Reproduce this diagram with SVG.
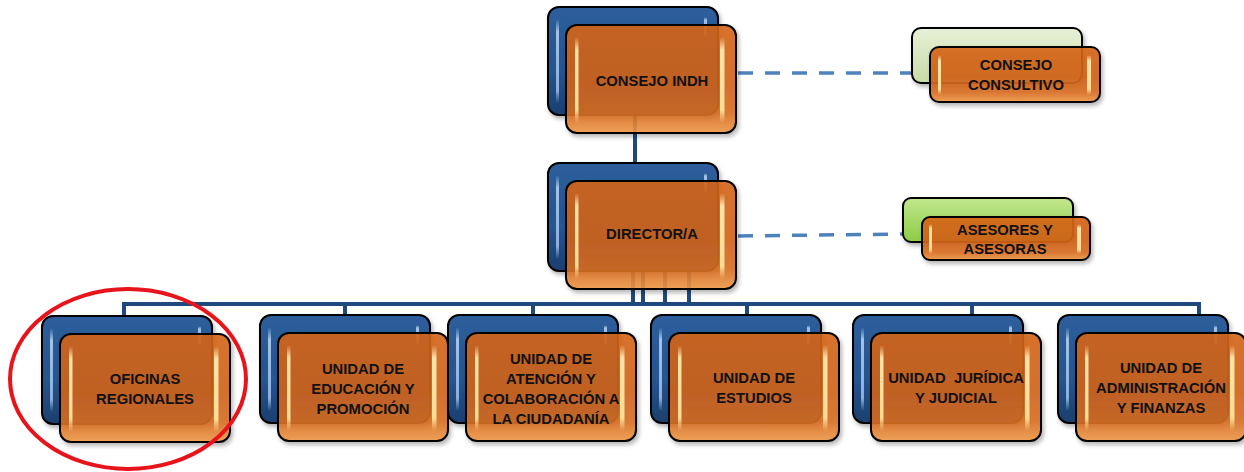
<svg xmlns="http://www.w3.org/2000/svg" xmlns:xlink="http://www.w3.org/1999/xlink" width="1244" height="472" viewBox="0 0 1244 472">
<style>
.t{font-family:"Liberation Sans",Arial,sans-serif;font-weight:bold;font-size:14.8px;fill:#111;text-anchor:middle}
.bus{stroke:#1F497D;stroke-width:4;fill:none}
.dash{stroke:#4F81BD;stroke-width:3.5;fill:none;stroke-dasharray:15 12}
.edge{stroke:#000;stroke-width:2}
</style>
<defs>
<linearGradient id="bg" x1="0" y1="0" x2="0" y2="1">
<stop offset="0" stop-color="#2E5E9C"/><stop offset="0.6" stop-color="#25548F"/><stop offset="1" stop-color="#1A3F6E"/>
</linearGradient>
<linearGradient id="og" x1="0" y1="0" x2="0" y2="1">
<stop offset="0" stop-color="#D6661A"/><stop offset="0.55" stop-color="#D2631A"/><stop offset="0.82" stop-color="#D96E22"/><stop offset="1" stop-color="#F09A48"/>
</linearGradient>
<linearGradient id="gp" x1="0" y1="0" x2="0" y2="1">
<stop offset="0" stop-color="#E8F0D8"/><stop offset="1" stop-color="#C8DBA4"/>
</linearGradient>
<linearGradient id="gb" x1="0" y1="0" x2="0" y2="1">
<stop offset="0" stop-color="#C2E88E"/><stop offset="1" stop-color="#8CCB44"/>
</linearGradient>
<linearGradient id="hl" x1="0" y1="0" x2="0" y2="1">
<stop offset="0" stop-color="#FFF2C0" stop-opacity="0"/><stop offset="0.15" stop-color="#FFF0B8" stop-opacity="0.9"/><stop offset="0.85" stop-color="#FFE8A0" stop-opacity="0.9"/><stop offset="1" stop-color="#FFE8A0" stop-opacity="0"/>
</linearGradient>
<linearGradient id="hb" x1="0" y1="0" x2="0" y2="1">
<stop offset="0" stop-color="#B8D4F4" stop-opacity="0"/><stop offset="0.15" stop-color="#B8D4F4" stop-opacity="0.85"/><stop offset="0.85" stop-color="#9CC0EA" stop-opacity="0.85"/><stop offset="1" stop-color="#9CC0EA" stop-opacity="0"/>
</linearGradient>
<filter id="sh" x="-10%" y="-10%" width="125%" height="130%">
<feDropShadow dx="2" dy="3" stdDeviation="2" flood-color="#000" flood-opacity="0.3"/>
</filter>
<g id="big">
<rect class="edge" x="0" y="0" width="170" height="108" rx="11" fill="url(#bg)" filter="url(#sh)"/>
<rect x="8" y="12" width="3" height="84" rx="1.5" fill="url(#hb)"/>
<rect x="156" y="10" width="3" height="20" rx="1.5" fill="url(#hb)"/>
<g transform="translate(18,18)">
<rect class="edge" x="0" y="0" width="170" height="108" rx="11" fill="url(#og)" fill-opacity="0.88" filter="url(#sh)"/>
<rect x="9" y="12" width="3.5" height="86" rx="1.5" fill="url(#hl)"/>
<rect x="154" y="12" width="4.5" height="86" rx="2" fill="url(#hl)"/>
</g>
</g>
</defs>

<g id="connectors">
<line class="bus" x1="635" y1="115" x2="635" y2="163"/>
<line class="bus" x1="633" y1="270" x2="633" y2="304"/>
<line class="bus" x1="643" y1="270" x2="643" y2="304"/>
<line class="bus" x1="665" y1="270" x2="665" y2="304"/>
<line class="bus" x1="689" y1="270" x2="689" y2="304"/>
<polyline class="bus" points="124,316 124,304 1199,304 1199,315"/>
<line class="bus" x1="345" y1="304" x2="345" y2="315"/>
<line class="bus" x1="533" y1="304" x2="533" y2="315"/>
<line class="bus" x1="747" y1="304" x2="747" y2="315"/>
<line class="bus" x1="972" y1="304" x2="972" y2="315"/>
<line class="dash" x1="738" y1="73" x2="914" y2="73"/>
<line class="dash" x1="738" y1="236" x2="905" y2="234"/>
</g>

<g id="consejo-indh">
<use href="#big" x="548" y="7"/>
<text class="t" x="652" y="86">CONSEJO INDH</text>
</g>

<g id="director">
<use href="#big" x="548" y="163"/>
<text class="t" x="652" y="239">DIRECTOR/A</text>
</g>

<g id="consejo-consultivo">
<rect class="edge" x="912" y="28" width="170" height="55" rx="9" fill="url(#gp)" filter="url(#sh)"/>
<rect class="edge" x="930" y="47" width="170" height="55" rx="9" fill="url(#og)" fill-opacity="0.9" filter="url(#sh)"/>
<rect x="938" y="55" width="3" height="40" rx="1.5" fill="url(#hl)"/>
<rect x="1087" y="55" width="4" height="40" rx="2" fill="url(#hl)"/>
<text class="t" x="1016" y="70">CONSEJO</text>
<text class="t" x="1016" y="90">CONSULTIVO</text>
</g>

<g id="asesores">
<rect class="edge" x="903" y="198" width="170" height="44" rx="8" fill="url(#gb)" filter="url(#sh)"/>
<rect class="edge" x="922" y="217" width="168" height="43" rx="8" fill="url(#og)" fill-opacity="0.9" filter="url(#sh)"/>
<rect x="929" y="224" width="3" height="30" rx="1.5" fill="url(#hl)"/>
<rect x="1077" y="224" width="4" height="30" rx="2" fill="url(#hl)"/>
<text class="t" x="1005" y="235">ASESORES Y</text>
<text class="t" x="1005" y="254">ASESORAS</text>
</g>

<g id="oficinas-regionales">
<use href="#big" x="42" y="316"/>
<text class="t" x="145" y="384">OFICINAS</text>
<text class="t" x="145" y="404">REGIONALES</text>
</g>

<g id="unidad-educacion">
<use href="#big" x="260" y="315"/>
<text class="t" x="363" y="374">UNIDAD DE</text>
<text class="t" x="363" y="394">EDUCACIÓN Y</text>
<text class="t" x="363" y="414">PROMOCIÓN</text>
</g>

<g id="unidad-atencion">
<use href="#big" x="448" y="315"/>
<text class="t" x="551" y="364">UNIDAD DE</text>
<text class="t" x="551" y="384">ATENCIÓN Y</text>
<text class="t" x="551" y="404">COLABORACIÓN A</text>
<text class="t" x="551" y="424">LA CIUDADANÍA</text>
</g>

<g id="unidad-estudios">
<use href="#big" x="651" y="315"/>
<text class="t" x="754" y="383">UNIDAD DE</text>
<text class="t" x="754" y="403">ESTUDIOS</text>
</g>

<g id="unidad-juridica">
<use href="#big" x="853" y="315"/>
<text class="t" x="956" y="383" xml:space="preserve">UNIDAD  JURÍDICA</text>
<text class="t" x="956" y="403">Y JUDICIAL</text>
</g>

<g id="unidad-administracion">
<use href="#big" x="1058" y="315"/>
<text class="t" x="1161" y="373">UNIDAD DE</text>
<text class="t" x="1161" y="393">ADMINISTRACIÓN</text>
<text class="t" x="1161" y="413">Y FINANZAS</text>
</g>

<ellipse id="highlight" cx="128" cy="379" rx="118" ry="90" fill="none" stroke="#E8141B" stroke-width="4"/>
</svg>
